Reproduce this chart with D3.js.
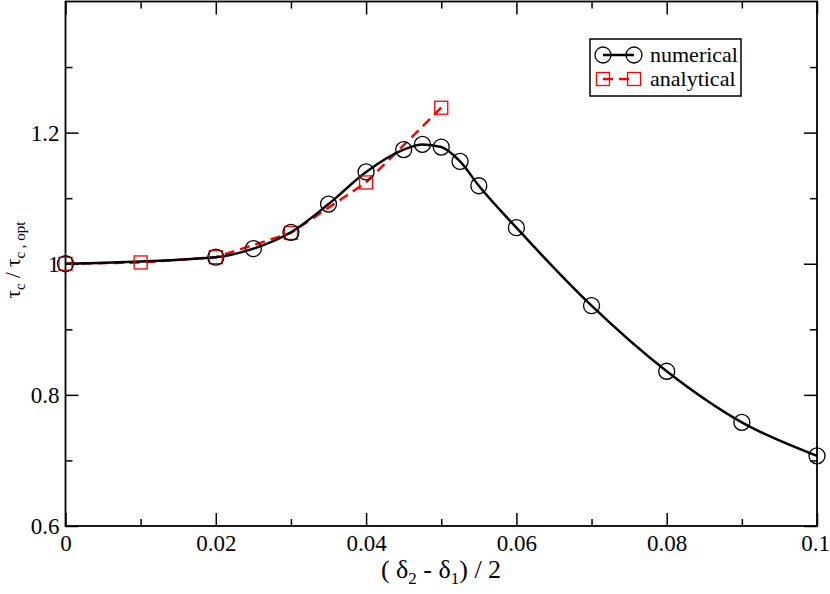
<!DOCTYPE html>
<html>
<head>
<meta charset="utf-8">
<script src="https://cdn.jsdelivr.net/npm/d3@7"></script>
<style>
  body { margin: 0; background: #fff; }
  svg { display: block; }
  svg text { font-family: "Liberation Serif", "Times New Roman", Times, serif; }
</style>
</head>
<body>
<svg id="chart" width="830" height="594"></svg>
<script>
'use strict';

// numerical series
const numX = [0, 0.02, 0.025, 0.03, 0.035, 0.04, 0.045, 0.0475, 0.05, 0.0525, 0.055, 0.06, 0.07, 0.08, 0.09, 0.1];
const numY = [1.0, 1.010, 1.023, 1.048, 1.091, 1.140, 1.174, 1.182, 1.178, 1.156, 1.119, 1.055, 0.936, 0.836, 0.758, 0.707];

// analytical series
const anaX = [0, 0.01, 0.02, 0.03, 0.04, 0.05];
const anaY = [1.0, 1.002, 1.010, 1.047, 1.124, 1.238];

// ticks
const xMajor = [0, 0.02, 0.04, 0.06, 0.08, 0.1];
const xMinor = [0.01, 0.03, 0.05, 0.07, 0.09];
const xLabels = ['0', '0.02', '0.04', '0.06', '0.08', '0.1'];
const yMajor = [0.6, 0.8, 1.0, 1.2];
const yMinor = [0.7, 0.9, 1.1, 1.3];
const yLabels = ['0.6', '0.8', '1', '1.2'];

const legendNames = ['numerical', 'analytical'];

const svg = d3.select('#chart');

const pLeft = 65.5, pRight = 817, pTop = 1.5, pBottom = 526;

const x = d3.scaleLinear().domain([0, 0.1]).range([pLeft, pRight]);
const y = d3.scaleLinear().domain([0.6, 1.4]).range([pBottom, pTop]);

const majorLen = 13, minorLen = 7;
const serif = '"Liberation Serif", "Times New Roman", Times, serif';

// axes (ticks pointing inward)
function addAxis(axis, transform) {
    const g = svg.append('g').attr('transform', transform).call(axis);
    g.attr('font-family', serif);
    g.select('.domain').remove();
    g.selectAll('line').attr('stroke', '#000').attr('stroke-width', 1.5);
    return g;
}

// bottom
const bx = addAxis(d3.axisBottom(x).tickValues(xMajor).tickSize(-majorLen)
    .tickFormat((d, i) => xLabels[i]).tickPadding(9), `translate(0,${pBottom})`);
bx.selectAll('text').attr('font-size', 23).attr('fill', '#000');
// keep the last label inside the page
bx.selectAll('text').filter(d => d === 0.1).attr('dx', -2);
addAxis(d3.axisBottom(x).tickValues(xMinor).tickSize(-minorLen).tickFormat(''), `translate(0,${pBottom})`);

// top
addAxis(d3.axisTop(x).tickValues(xMajor).tickSize(-majorLen).tickFormat(''), `translate(0,${pTop})`);
addAxis(d3.axisTop(x).tickValues(xMinor).tickSize(-minorLen).tickFormat(''), `translate(0,${pTop})`);

// left
const ly = addAxis(d3.axisLeft(y).tickValues(yMajor).tickSize(-majorLen)
    .tickFormat((d, i) => yLabels[i]).tickPadding(6), `translate(${pLeft},0)`);
ly.selectAll('text').attr('font-size', 23).attr('fill', '#000');
addAxis(d3.axisLeft(y).tickValues(yMinor).tickSize(-minorLen).tickFormat(''), `translate(${pLeft},0)`);

// right
addAxis(d3.axisRight(y).tickValues(yMajor).tickSize(-majorLen).tickFormat(''), `translate(${pRight},0)`);
addAxis(d3.axisRight(y).tickValues(yMinor).tickSize(-minorLen).tickFormat(''), `translate(${pRight},0)`);

// frame
svg.append('rect')
    .attr('x', pLeft).attr('y', pTop)
    .attr('width', pRight - pLeft).attr('height', pBottom - pTop)
    .attr('fill', 'none').attr('stroke', '#000').attr('stroke-width', 1.8);

// build point tables
const numData = numX.map((v, i) => [v, numY[i]]);
const anaData = anaX.map((v, i) => [v, anaY[i]]);

// analytical line (dashed, straight)
svg.append('path')
    .datum(anaData)
    .attr('d', d3.line().x(d => x(d[0])).y(d => y(d[1])))
    .attr('fill', 'none').attr('stroke', '#ff0000')
    .attr('stroke-width', 2.5).attr('stroke-dasharray', '10,6');

// numerical line (smooth)
svg.append('path')
    .datum(numData)
    .attr('d', d3.line().curve(d3.curveMonotoneX).x(d => x(d[0])).y(d => y(d[1])))
    .attr('fill', 'none').attr('stroke', '#000').attr('stroke-width', 2.5);

const sq = 13, cr = 8;

// analytical markers
svg.append('g').selectAll('rect')
    .data(anaData).enter().append('rect')
    .attr('x', d => x(d[0]) - sq / 2).attr('y', d => y(d[1]) - sq / 2)
    .attr('width', sq).attr('height', sq)
    .attr('fill', 'none').attr('stroke', '#ff0000').attr('stroke-width', 1.3);

// numerical markers
svg.append('g').selectAll('circle')
    .data(numData).enter().append('circle')
    .attr('cx', d => x(d[0])).attr('cy', d => y(d[1])).attr('r', cr)
    .attr('fill', 'none').attr('stroke', '#000').attr('stroke-width', 1.3);

// legend
const lg = svg.append('g');
lg.append('rect')
    .attr('x', 590).attr('y', 39).attr('width', 151).attr('height', 57)
    .attr('fill', '#fff').attr('stroke', '#000').attr('stroke-width', 1.5);

const rows = [55, 79];
// numerical entry
lg.append('line').attr('x1', 603).attr('x2', 634).attr('y1', rows[0]).attr('y2', rows[0])
    .attr('stroke', '#000').attr('stroke-width', 2.5);
[603, 634].forEach(cx => lg.append('circle').attr('cx', cx).attr('cy', rows[0]).attr('r', cr)
    .attr('fill', 'none').attr('stroke', '#000').attr('stroke-width', 1.3));
// analytical entry
lg.append('line').attr('x1', 603).attr('x2', 634).attr('y1', rows[1]).attr('y2', rows[1])
    .attr('stroke', '#ff0000').attr('stroke-width', 2.5).attr('stroke-dasharray', '10,6');
[603, 634].forEach(cx => lg.append('rect').attr('x', cx - sq / 2).attr('y', rows[1] - sq / 2)
    .attr('width', sq).attr('height', sq)
    .attr('fill', 'none').attr('stroke', '#ff0000').attr('stroke-width', 1.3));

legendNames.forEach((name, i) => {
    lg.append('text').attr('x', 650).attr('y', rows[i] + 7)
        .attr('font-size', 22).attr('fill', '#000').text(name);
});

// x axis title
const xt = svg.append('text')
    .attr('x', 441).attr('y', 578).attr('text-anchor', 'middle')
    .attr('font-size', 26).attr('fill', '#000');
xt.append('tspan').text('( δ');
xt.append('tspan').attr('font-size', 17).attr('dy', 6).text('2');
xt.append('tspan').attr('dy', -6).text(' - δ');
xt.append('tspan').attr('font-size', 17).attr('dy', 6).text('1');
xt.append('tspan').attr('dy', -6).text(') / 2');

// y axis title
const yt = svg.append('text')
    .attr('transform', 'translate(20,260) rotate(-90)')
    .attr('text-anchor', 'middle')
    .attr('font-size', 21).attr('fill', '#000');
yt.append('tspan').text('τ');
yt.append('tspan').attr('font-size', 15).attr('dy', 5).text('c');
yt.append('tspan').attr('dy', -5).text(' / τ');
yt.append('tspan').attr('font-size', 15).attr('dy', 5).text('c , opt');
</script>
</body>
</html>
